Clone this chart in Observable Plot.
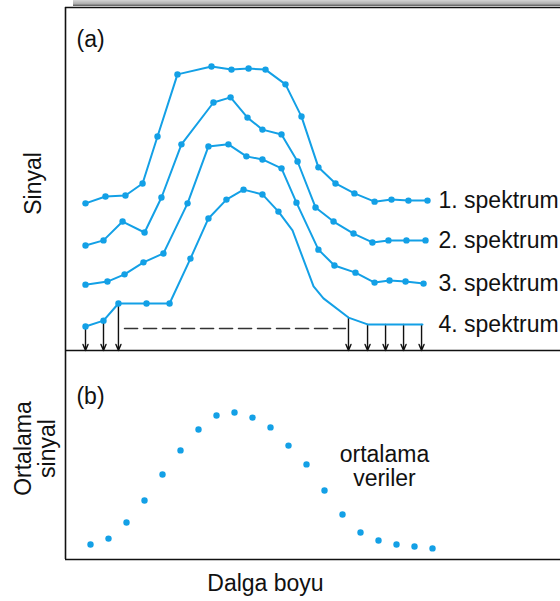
<!DOCTYPE html>
<html>
<head>
<meta charset="utf-8">
<script src="https://cdn.jsdelivr.net/npm/d3@7"></script>
<script src="https://cdn.jsdelivr.net/npm/@observablehq/plot@0.6"></script>
<style>
  html, body { margin: 0; padding: 0; background: #fff; }
  #wrap { position: relative; width: 560px; height: 601px; overflow: hidden; }
  #topbar { position: absolute; left: 73px; top: 0; width: 487px; height: 6px;
    background: linear-gradient(#d4d4d4, #b0b0b0 60%, #5a5a5a); }
  #pa, #pb { position: absolute; left: 0; }
  #pa { top: 0; }
  #pb { top: 350px; }
</style>
</head>
<body>
<div id="wrap">
  <div id="topbar"></div>
  <div id="pa"></div>
  <div id="pb"></div>
</div>
<script>
// ---- data (wavelength index, signal) ----
const spectrumNames = ["1. spektrum", "2. spektrum", "3. spektrum", "4. spektrum"];

const wl1 = [0, 1.11, 2.22, 3.17, 4, 5.11, 7, 8.11, 9.06, 10, 11.11, 12, 12.94, 13.89, 14.94, 16.06, 17, 17.94, 19];
const sig1 = [42.9, 44.9, 45.2, 48.7, 62.4, 80.5, 82.8, 81.9, 82.2, 81.9, 77.6, 68.2, 53.4, 48.7, 45.8, 43.4, 44.0, 43.7, 43.7];

const wl2 = [0, 1, 2.06, 3.28, 4.22, 5.33, 7.11, 8.06, 9, 9.83, 10.89, 11.78, 12.78, 13.78, 14.89, 15.94, 16.83, 17.83, 18.89];
const sig2 = [30.6, 32.1, 37.6, 34.4, 44.6, 60.1, 72.3, 73.8, 67.9, 64.4, 63.0, 55.1, 41.7, 37.6, 34.1, 31.5, 32.1, 32.1, 32.1];

const wl3 = [0, 1.22, 2.17, 3.22, 4.33, 5.67, 6.83, 7.94, 8.94, 9.83, 10.89, 11.72, 12.94, 13.83, 15, 16.06, 16.89, 17.78, 18.78];
const sig3 = [19.2, 20.1, 22.2, 25.7, 28.3, 42.9, 59.5, 60.1, 56.6, 55.7, 53.1, 43.1, 29.4, 24.8, 22.7, 19.8, 20.4, 20.1, 19.5];

const wl4 = [0, 1, 1.83, 3.39, 4.67, 5.83, 6.83, 7.83, 8.78, 9.83, 10.72, 11.5, 12.67, 13.22, 14.61, 15.67, 18.72];
const sig4 = [7.0, 8.7, 13.7, 13.7, 13.7, 26.8, 38.5, 44.0, 46.9, 45.5, 40.5, 35.0, 18.7, 15.2, 9.6, 7.6, 7.6];
const markedCount4 = 11; // spectrum 4 shows markers only on its first points

const arrowWl = [0, 1, 1.83, 14.61, 15.67, 16.67, 17.67, 18.67];
const arrowTop = [7.0, 8.7, 13.7, 9.6, 7.6, 7.6, 7.6, 7.6];

const dashWl = [2.17, 14.44];
const dashSig = [6.4, 6.4];

const avgWl = [0, 1, 2, 3, 4, 5, 6, 7, 8, 9, 10, 11, 12, 13, 14, 15, 16, 17, 18, 19];
const avgSig = [7.2, 10.0, 17.7, 28.2, 40.7, 52.2, 62.2, 68.9, 70.3, 67.9, 63.2, 54.5, 45.5, 33.0, 21.5, 12.9, 9.1, 7.2, 6.2, 5.3];

// ---- build tables ----
const seriesWl = [wl1, wl2, wl3, wl4];
const seriesSig = [sig1, sig2, sig3, sig4];
const rows = [];
seriesWl.forEach((wl, s) => wl.forEach((w, i) => rows.push({
  series: spectrumNames[s], wl: w, sig: seriesSig[s][i],
  marked: s < 3 || i < markedCount4
})));
const lastPoints = spectrumNames.map((name, s) => ({name, sig: seriesSig[s][seriesSig[s].length - 1]}));
const arrows = arrowWl.map((w, i) => ({wl: w, top: arrowTop[i]}));
const dash = dashWl.map((w, i) => ({wl: w, sig: dashSig[i]}));
const avg = avgWl.map((w, i) => ({wl: w, sig: avgSig[i]}));

const blue = "#13a0e6";
const ink = "#111";
const font = "'Liberation Sans', Arial, Helvetica, sans-serif";
const fs = 23;

const xA = [-20 / 18, 475 / 18];
const xB = [-25 / 18, 470 / 18];

const plotA = Plot.plot({
  width: 560, height: 351,
  marginLeft: 65, marginRight: 0, marginTop: 7, marginBottom: 1,
  x: {domain: xA, axis: null},
  y: {domain: [0, 100], axis: null},
  style: {fontFamily: font, background: "transparent", overflow: "visible", color: ink},
  marks: [
    Plot.ruleY([100], {stroke: ink, strokeWidth: 1.6}),
    Plot.ruleX([xA[0]], {stroke: ink, strokeWidth: 1.6}),
    Plot.ruleY([0], {stroke: ink, strokeWidth: 1.6}),
    Plot.line(dash, {x: "wl", y: "sig", stroke: "#333", strokeWidth: 1.6, strokeDasharray: "13,6"}),
    Plot.arrow(arrows, {x1: "wl", x2: "wl", y1: "top", y2: () => 0, stroke: ink, strokeWidth: 1.4, headLength: 7, headAngle: 45}),
    Plot.line(rows, {x: "wl", y: "sig", z: "series", stroke: blue, strokeWidth: 2}),
    Plot.dot(rows.filter(d => d.marked), {x: "wl", y: "sig", r: 3.2, fill: blue}),
    Plot.text(lastPoints, {x: 19.61, y: "sig", text: "name", textAnchor: "start", fontSize: fs, fill: ink}),
    Plot.text(["(a)"], {x: -0.5, y: 90.7, text: d => d, textAnchor: "start", fontSize: fs, fill: ink}),
    Plot.text(["Sinyal"], {x: -2.89, y: 48.7, text: d => d, rotate: -90, fontSize: fs, fill: ink})
  ]
});

const plotB = Plot.plot({
  width: 560, height: 251,
  marginLeft: 65, marginRight: 0, marginTop: 0, marginBottom: 42,
  x: {domain: xB, axis: null},
  y: {domain: [0, 100], axis: null},
  style: {fontFamily: font, background: "transparent", overflow: "visible", color: ink},
  marks: [
    Plot.ruleX([xB[0]], {stroke: ink, strokeWidth: 1.6}),
    Plot.ruleY([0], {stroke: ink, strokeWidth: 1.6}),
    Plot.dot(avg, {x: "wl", y: "sig", r: 3.2, fill: blue}),
    Plot.text(["(b)"], {x: -0.78, y: 78, text: d => d, textAnchor: "start", fontSize: fs, fill: ink}),
    Plot.text(["Ortalama\nsinyal"], {x: -3.06, y: 53.1, text: d => d, rotate: -90, lineHeight: 1.05, fontSize: fs, fill: ink}),
    Plot.text(["ortalama\nveriler"], {x: 16.33, y: 44.7, text: d => d, lineHeight: 1.05, fontSize: fs, fill: ink}),
    Plot.text(["Dalga boyu"], {x: 9.72, y: -11.7, text: d => d, fontSize: fs, fill: ink})
  ]
});

document.getElementById("pa").appendChild(plotA);
document.getElementById("pb").appendChild(plotB);
</script>
</body>
</html>
